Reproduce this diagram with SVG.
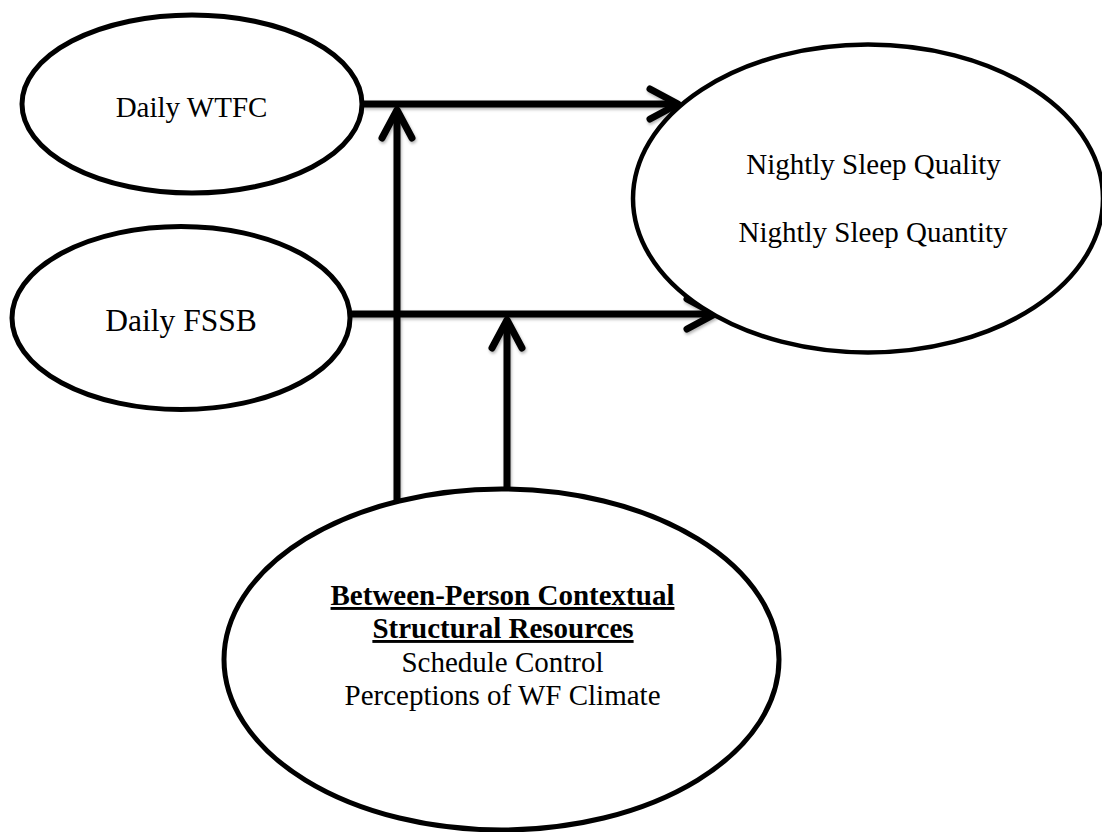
<svg xmlns="http://www.w3.org/2000/svg" width="1102" height="832" viewBox="0 0 1102 832">
<style>
.node ellipse{fill:#fff;stroke:#000;stroke-width:5}
.lbl{font-family:'Liberation Serif','Times New Roman','DejaVu Serif',serif;font-size:29px;fill:#000;text-anchor:middle}
.b{font-weight:bold;text-decoration:underline}
.conn{fill:none;stroke:#000;stroke-width:7;stroke-linecap:butt}
</style>
<defs>
<filter id="sh" x="-10%" y="-10%" width="120%" height="120%">
<feDropShadow dx="1" dy="2" stdDeviation="1.5" flood-color="#000" flood-opacity="0.3"/>
</filter>
<marker id="ah" markerUnits="userSpaceOnUse" viewBox="-36 -22 42 44" refX="0" refY="0" markerWidth="42" markerHeight="44" orient="auto" overflow="visible">
<path d="M-28,-15 L0,0 L-28,15" fill="none" stroke="#000" stroke-width="7" stroke-linecap="round" stroke-linejoin="round"/>
</marker>
</defs>
<rect width="1102" height="832" fill="#fff"/>
<g id="connectors" filter="url(#sh)">
<path class="conn" d="M362,104 H678" marker-end="url(#ah)"/>
<path class="conn" d="M350,314 H715" marker-end="url(#ah)"/>
<path class="conn" d="M397,502 V110" marker-end="url(#ah)"/>
<path class="conn" d="M507,489 V320" marker-end="url(#ah)"/>
</g>
<g id="wtfc" class="node">
<ellipse cx="192" cy="104" rx="170" ry="89"/>
<text class="lbl" x="191.5" y="117" font-family="Liberation Serif, serif">Daily WTFC</text>
</g>
<g id="fssb" class="node">
<ellipse cx="181" cy="318" rx="169" ry="91.5"/>
<text class="lbl" x="181" y="331" style="font-size:31.5px" font-family="Liberation Serif, serif">Daily FSSB</text>
</g>
<g id="sleep" class="node">
<ellipse cx="868" cy="198.5" rx="235" ry="154" style="stroke-width:4.5"/>
<text class="lbl" x="873.5" y="174" font-family="Liberation Serif, serif">Nightly Sleep Quality</text>
<text class="lbl" x="873" y="242" font-family="Liberation Serif, serif">Nightly Sleep Quantity</text>
</g>
<g id="resources" class="node">
<ellipse cx="501.5" cy="659.5" rx="277.5" ry="170.5"/>
<text class="lbl b" x="502.5" y="605" font-family="Liberation Serif, serif">Between-Person Contextual</text>
<text class="lbl b" x="503" y="638" font-family="Liberation Serif, serif">Structural Resources</text>
<text class="lbl" x="502.5" y="672" font-family="Liberation Serif, serif">Schedule Control</text>
<text class="lbl" x="502.5" y="705" font-family="Liberation Serif, serif">Perceptions of WF Climate</text>
</g>
</svg>
